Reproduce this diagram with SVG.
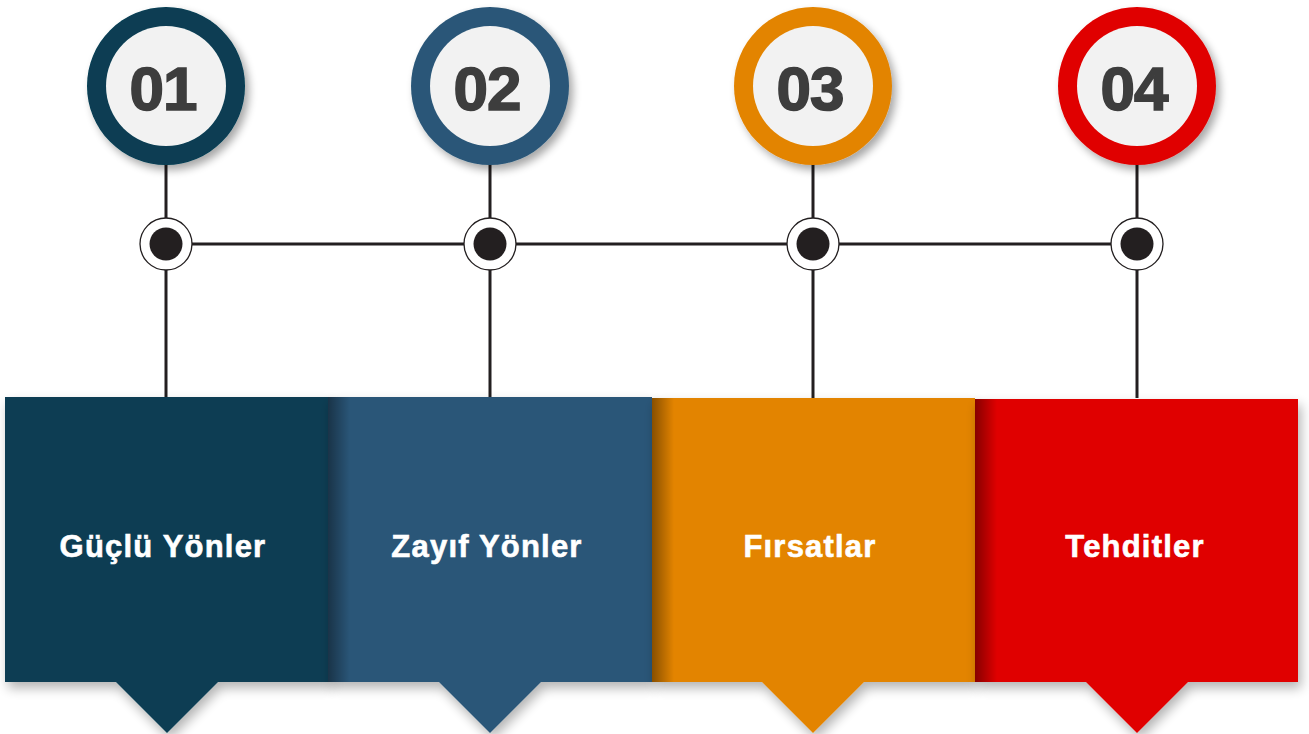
<svg xmlns="http://www.w3.org/2000/svg" width="1309" height="734" viewBox="0 0 1309 734">
  <defs>
    <style>
      .num { font-family: "Liberation Sans", Arial, sans-serif; font-weight: 700; font-size: 62px; fill: #3d3d3d; stroke: #3d3d3d; stroke-width: 1.6; text-anchor: middle; letter-spacing: -1px; }
      .label { font-family: "Liberation Sans", Arial, sans-serif; font-weight: 700; font-size: 31px; fill: #ffffff; stroke: #ffffff; stroke-width: 0.6; text-anchor: middle; letter-spacing: 1.2px; }
      .wire { stroke: #231f20; stroke-width: 3; fill: none; }
      .ring { fill: #ffffff; stroke: #231f20; stroke-width: 1.3; }
      .dot { fill: #231f20; }
      .inner { fill: #f2f2f2; }
    </style>
    <filter id="softShadow" x="-20%" y="-20%" width="150%" height="150%">
      <feGaussianBlur in="SourceAlpha" stdDeviation="4"/>
      <feOffset dx="4" dy="5" result="b"/>
      <feComponentTransfer><feFuncA type="linear" slope="0.35"/></feComponentTransfer>
      <feMerge><feMergeNode/><feMergeNode in="SourceGraphic"/></feMerge>
    </filter>
    <filter id="boxShadow" x="-10%" y="-10%" width="125%" height="130%">
      <feGaussianBlur in="SourceAlpha" stdDeviation="6"/>
      <feOffset dx="3" dy="6" result="b"/>
      <feComponentTransfer><feFuncA type="linear" slope="0.3"/></feComponentTransfer>
      <feMerge><feMergeNode/><feMergeNode in="SourceGraphic"/></feMerge>
    </filter>
    <linearGradient id="edgeShade" x1="0" y1="0" x2="1" y2="0">
      <stop offset="0" stop-color="#000" stop-opacity="0.4"/>
      <stop offset="1" stop-color="#000" stop-opacity="0"/>
    </linearGradient>
  </defs>

  <!-- connectors: drops from badges, spine, drops to panels -->
  <g id="connectors">
    <line class="wire" x1="166" y1="160" x2="166" y2="398"/>
    <line class="wire" x1="490" y1="160" x2="490" y2="398"/>
    <line class="wire" x1="813" y1="160" x2="813" y2="398"/>
    <line class="wire" x1="1137" y1="160" x2="1137" y2="398"/>
    <line class="wire" x1="166" y1="244" x2="1137" y2="244"/>
  </g>

  <!-- junction dots on the spine -->
  <g id="junctions">
    <circle class="ring" cx="166" cy="244" r="26"/><circle class="dot" cx="166" cy="244" r="16.5"/>
    <circle class="ring" cx="490" cy="244" r="26"/><circle class="dot" cx="490" cy="244" r="16.5"/>
    <circle class="ring" cx="813" cy="244" r="26"/><circle class="dot" cx="813" cy="244" r="16.5"/>
    <circle class="ring" cx="1137" cy="244" r="26"/><circle class="dot" cx="1137" cy="244" r="16.5"/>
  </g>

  <!-- number badges -->
  <g id="badge-01" filter="url(#softShadow)">
    <circle cx="166" cy="86" r="79" fill="#073d52"/>
    <circle class="inner" cx="166" cy="86" r="60"/>
    <text class="num" x="163" y="110">01</text>
  </g>
  <g id="badge-02" filter="url(#softShadow)">
    <circle cx="490" cy="86" r="79" fill="#2a5778"/>
    <circle class="inner" cx="490" cy="86" r="60"/>
    <text class="num" x="487" y="110">02</text>
  </g>
  <g id="badge-03" filter="url(#softShadow)">
    <circle cx="813" cy="86" r="79" fill="#e38400"/>
    <circle class="inner" cx="813" cy="86" r="60"/>
    <text class="num" x="810" y="110">03</text>
  </g>
  <g id="badge-04" filter="url(#softShadow)">
    <circle cx="1137" cy="86" r="79" fill="#e00000"/>
    <circle class="inner" cx="1137" cy="86" r="60"/>
    <text class="num" x="1134" y="110">04</text>
  </g>

  <!-- panels, each overlapping the previous one -->
  <g id="panel-01">
    <path d="M5 397 H330 V682 H218 L167 733 L116 682 H5 Z" fill="#073d52" filter="url(#boxShadow)"/>
    <text class="label" x="163" y="557">Güçlü Yönler</text>
  </g>
  <g id="panel-02">
    <path d="M328 397 H652 V682 H541 L490 733 L439 682 H328 Z" fill="#2a5778" filter="url(#boxShadow)"/>
    <rect x="328" y="397" width="22" height="285" fill="url(#edgeShade)"/>
    <text class="label" x="487" y="557">Zayıf Yönler</text>
  </g>
  <g id="panel-03">
    <path d="M652 398 H975 V682 H864 L813 733 L762 682 H652 Z" fill="#e38400" filter="url(#boxShadow)"/>
    <rect x="652" y="398" width="22" height="284" fill="url(#edgeShade)"/>
    <text class="label" x="810" y="557">Fırsatlar</text>
  </g>
  <g id="panel-04">
    <path d="M975 399 H1298 V682 H1188 L1137 733 L1086 682 H975 Z" fill="#e00000" filter="url(#boxShadow)"/>
    <rect x="975" y="399" width="22" height="283" fill="url(#edgeShade)"/>
    <text class="label" x="1135" y="557">Tehditler</text>
  </g>
</svg>
